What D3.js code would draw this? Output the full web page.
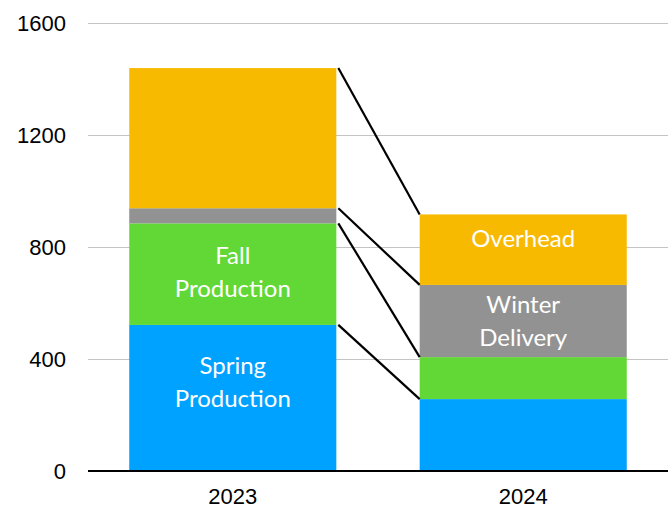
<!DOCTYPE html>
<html>
<head>
<meta charset="utf-8">
<script src="https://cdn.jsdelivr.net/npm/d3@7"></script>
<style>
body{margin:0;background:#fff;}
</style>
</head>
<body>
<script>
var width=672;
var height=508;

// data
var years=["2023","2024"];
var categories=["Spring Production","Fall Production","Winter Delivery","Overhead"];
var spring=[522,257];
var fall=[363,150];
var winter=[54,258];
var overhead=[501,252];
var yTicks=[0,400,800,1200,1600];
var labels=[
	{year:"2023",cat:"Spring Production",lines:["Spring","Production"]},
	{year:"2023",cat:"Fall Production",lines:["Fall","Production"]},
	{year:"2024",cat:"Winter Delivery",lines:["Winter","Delivery"]},
	{year:"2024",cat:"Overhead",lines:["Overhead"]}
];

var colors={"Spring Production":"#00A2FF","Fall Production":"#61D836","Winter Delivery":"#929292","Overhead":"#F8BA00"};
// nudges for the text boxes (px)
var labelShift={"Spring Production":-16,"Fall Production":-2,"Winter Delivery":0,"Overhead":-11};

var rows=years.map(function(y,i){
	return {year:y,"Spring Production":spring[i],"Fall Production":fall[i],"Winter Delivery":winter[i],"Overhead":overhead[i]};
});
var stacked=d3.stack().keys(categories)(rows);

var x=d3.scaleBand().domain(years).range([88,668]).paddingInner(0.287).paddingOuter(0.142);
var y=d3.scaleLinear().domain([0,1600]).range([471,23.3]);

var svg=d3.select("body").append("svg")
	.attr("width",width)
	.attr("height",height);

// grid
svg.append("g").selectAll("line")
	.data(yTicks.filter(function(d){return d>0;}))
	.enter().append("line")
	.attr("x1",88).attr("x2",668)
	.attr("y1",function(d){return Math.round(y(d))+0.5;})
	.attr("y2",function(d){return Math.round(y(d))+0.5;})
	.attr("stroke","#c4c4c4").attr("stroke-width",1);

svg.append("g").selectAll("text")
	.data(yTicks)
	.enter().append("text")
	.attr("x",66)
	.attr("y",function(d){return y(d);})
	.attr("dy","0.36em")
	.attr("text-anchor","end")
	.style("font-family","'Liberation Sans',Arial,sans-serif")
	.style("font-size","22px")
	.text(function(d){return d;});

// bars
svg.append("g").selectAll("g")
	.data(stacked)
	.enter().append("g")
	.attr("fill",function(d){return colors[d.key];})
	.selectAll("rect")
	.data(function(d){return d;})
	.enter().append("rect")
	.attr("x",function(d){return x(d.data.year);})
	.attr("width",x.bandwidth())
	.attr("y",function(d){return y(d[1]);})
	.attr("height",function(d){return y(d[0])-y(d[1]);});

// connector lines between segment tops
svg.append("g").selectAll("line")
	.data(stacked)
	.enter().append("line")
	.attr("x1",x("2023")+x.bandwidth()+2)
	.attr("y1",function(d){return y(d[0][1]);})
	.attr("x2",x("2024"))
	.attr("y2",function(d){return y(d[1][1]);})
	.attr("stroke","#000").attr("stroke-width",2.2);

// segment labels
var lab=svg.append("g").selectAll("text")
	.data(labels)
	.enter().append("text")
	.attr("text-anchor","middle")
	.attr("fill","#fff")
	.style("font-family","Lato,'Open Sans',sans-serif")
	.style("font-size","24px")
	.attr("transform",function(d){
		var s=stacked[categories.indexOf(d.cat)][years.indexOf(d.year)];
		var cy=(y(s[0])+y(s[1]))/2+labelShift[d.cat];
		return "translate("+(x(d.year)+x.bandwidth()/2)+","+cy+")";
	});
lab.selectAll("tspan")
	.data(function(d){return d.lines.map(function(t,i){return {t:t,i:i,n:d.lines.length};});})
	.enter().append("tspan")
	.attr("x",0)
	.attr("y",function(d){return (d.i-(d.n-1)/2)*32.5;})
	.attr("dy","0.35em")
	.text(function(d){return d.t;});

// x axis
svg.append("line")
	.attr("x1",88).attr("x2",668)
	.attr("y1",471).attr("y2",471)
	.attr("stroke","#000").attr("stroke-width",2.2);

svg.append("g").selectAll("text")
	.data(years)
	.enter().append("text")
	.attr("x",function(d){return x(d)+x.bandwidth()/2;})
	.attr("y",496)
	.attr("dy","0.35em")
	.attr("text-anchor","middle")
	.style("font-family","'Liberation Sans',Arial,sans-serif")
	.style("font-size","22px")
	.text(function(d){return d;});
</script>
</body>
</html>
